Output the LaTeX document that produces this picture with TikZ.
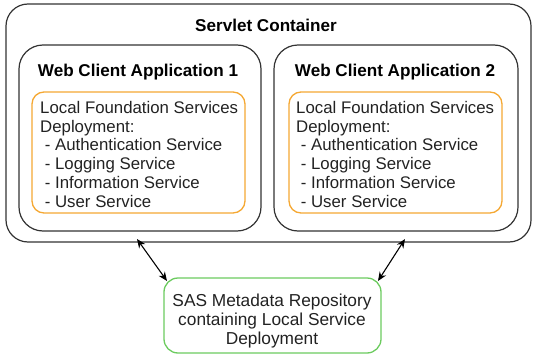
\documentclass[tikz,border=0pt]{standalone}
\usepackage{fontspec}
\setmainfont{Liberation Sans}
\usetikzlibrary{arrows.meta}
\definecolor{txt}{HTML}{222222}
\definecolor{boxline}{HTML}{333333}
\definecolor{orangeline}{HTML}{F5A833}
\definecolor{greenline}{HTML}{6CCB5F}
\tikzset{
  x=1pt, y=-1pt,
  container/.style={draw=boxline, line width=1.2pt, rounded corners=22pt, inner sep=0pt},
  appbox/.style={draw=boxline, line width=1.2pt, rounded corners=24pt, inner sep=0pt},
  svcbox/.style={draw=orangeline, line width=1.3pt, rounded corners=12pt, inner sep=0pt},
  repobox/.style={draw=greenline, line width=1.3pt, rounded corners=14pt, inner sep=0pt},
  title/.style={font=\fontsize{17.1}{19}\selectfont\bfseries, text=black, inner sep=0pt},
  body/.style={font=\fontsize{16.8}{18.8}\selectfont, text=txt, align=left, inner sep=0pt, anchor=north west},
  cbody/.style={font=\fontsize{17.3}{19}\selectfont, text=txt, align=center, inner sep=0pt},
  link/.style={line width=1.1pt, {Stealth[length=9pt,width=7.5pt]}-{Stealth[length=9pt,width=7.5pt]}}
}
\begin{document}
\begin{tikzpicture}
\useasboundingbox (0,0) rectangle (533,356);
\node[container, minimum width=525pt, minimum height=238pt] (outer) at (268.5,123) {};
\node[appbox, minimum width=242pt, minimum height=186pt] (app1) at (140,138) {};
\node[appbox, minimum width=244pt, minimum height=186pt] (app2) at (396,138) {};
\node[svcbox, minimum width=213pt, minimum height=121pt] (svc1) at (138.5,152.5) {};
\node[svcbox, minimum width=213pt, minimum height=121pt] (svc2) at (395.5,152.5) {};
\node[repobox, minimum width=217pt, minimum height=75pt] (repo) at (272.5,315.5) {};

\node[title] (tcont) at (266,25) {Servlet Container};
\node[title] (tapp1) at (138,72) {Web Client Application 1};
\node[title] (tapp2) at (395,72) {Web Client Application 2};

\node[body] (list1) at (40,101) {Local Foundation Services\\Deployment:\\\ - Authentication Service\\\ - Logging Service\\\ - Information Service\\\ - User Service};
\node[body] (list2) at (296,101) {Local Foundation Services\\Deployment:\\\ - Authentication Service\\\ - Logging Service\\\ - Information Service\\\ - User Service};

\node[cbody] (trepo) at (272,321) {SAS Metadata Repository\\containing Local Service\\Deployment};

\coordinate (e1) at (137,239);
\coordinate (r1) at (167,281);
\coordinate (e2) at (405,239);
\coordinate (r2) at (378,281);
\draw[link] (e1) -- (r1);
\draw[link] (e2) -- (r2);
\end{tikzpicture}
\end{document}
